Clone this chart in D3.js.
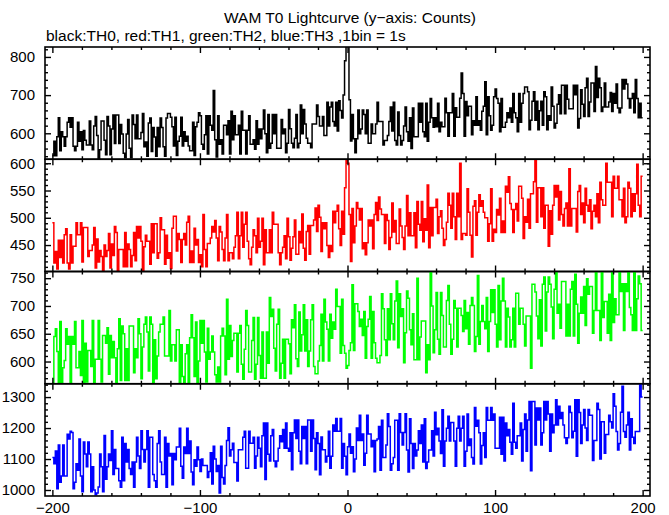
<!DOCTYPE html>
<html><head><meta charset="utf-8">
<script src="https://cdn.jsdelivr.net/npm/d3@7"></script>
<style>body{margin:0;background:#fff}svg{display:block}text{font-family:"Liberation Sans",Arial,Helvetica,sans-serif}</style>
</head><body>
<svg id="c" width="669" height="515"></svg>
<script>
const titleText = "WAM T0 Lightcurve (y\u2212axis: Counts)";
const subtitleText = "black:TH0, red:TH1, green:TH2, blue:TH3 ,1bin = 1s";
const xTickLabels = [-200, -100, 0, 100, 200];
const timeStart = -200, timeEnd = 200;

const th0 = [
541,579,541,591,641,554,604,591,566,591,629,641,616,641,566,554,566,629,579,604,
557,607,582,569,569,632,569,557,619,644,594,532,557,632,632,582,544,644,619,544,
611,648,573,648,648,573,623,598,548,536,598,636,561,536,648,623,586,648,586,586,
602,652,565,577,540,627,640,552,615,590,540,615,565,640,615,565,540,640,652,652,
642,617,567,642,542,579,592,642,567,604,579,592,567,554,554,629,542,617,629,654,
646,571,558,596,646,546,646,621,608,712,583,538,646,571,583,546,621,621,596,633,
546,658,583,646,596,596,621,546,658,608,608,546,608,646,571,571,583,558,633,571,
611,586,611,661,599,549,649,561,574,649,599,649,561,561,561,636,599,611,549,574,
662,612,574,562,587,649,562,574,674,599,662,624,587,574,574,562,624,624,624,674,
644,619,619,644,594,594,681,619,669,681,631,619,681,606,685,660,640,700,790,850,
845,688,580,649,586,549,586,661,599,611,661,649,599,661,574,574,624,599,599,624,
681,631,631,631,569,581,581,594,631,669,606,681,581,569,656,594,569,581,619,669,
604,579,641,560,666,591,591,591,679,629,679,604,591,679,579,629,691,641,616,641,
617,679,604,629,617,617,692,654,592,654,654,704,592,667,642,642,692,758,704,592,
683,646,671,671,596,633,621,696,621,633,608,658,671,735,596,696,646,608,621,696,
716,691,679,604,691,616,616,629,654,641,666,629,704,654,641,604,704,629,679,704,
721,721,709,609,634,684,709,634,684,609,659,684,621,709,696,609,646,634,721,671,
614,626,676,701,651,726,726,651,726,689,664,664,664,726,701,726,614,639,714,676,
644,719,744,644,682,732,732,657,775,694,744,719,657,669,732,669,669,682,707,657,
704,679,729,666,654,666,741,716,741,729,691,666,691,704,654,741,691,641,679,641];

const th1 = [
491,417,438,406,459,427,459,417,469,480,417,406,469,417,448,448,491,469,469,491,
419,482,482,482,429,440,440,450,482,408,461,419,440,429,397,450,429,440,471,408,
452,431,484,473,399,442,442,442,410,473,410,452,442,410,431,473,421,484,463,484,
457,404,447,468,457,457,415,489,436,489,489,426,436,500,478,478,415,468,426,436,
407,481,503,503,439,471,460,418,460,471,450,492,503,418,439,418,481,450,460,418,
432,410,506,442,410,453,453,463,484,474,495,463,421,484,474,442,421,463,506,421,
436,436,425,446,467,510,425,467,510,446,488,510,457,425,414,446,478,467,436,499,
446,457,499,414,478,436,436,478,436,510,488,488,488,436,414,436,446,467,425,499,
465,422,444,465,496,433,433,475,454,507,444,422,475,486,433,486,486,496,518,475,
523,501,438,491,480,491,449,427,449,438,512,491,512,523,480,449,512,470,555,612,
600,506,420,517,454,485,528,517,496,517,443,454,432,454,496,485,496,443,506,528,
495,538,516,506,506,453,506,495,442,464,527,474,495,453,453,516,485,464,442,485,
541,467,509,467,467,509,445,530,488,477,530,456,498,477,560,445,519,467,519,519,
534,471,502,513,481,449,460,492,545,523,481,545,502,460,545,502,600,460,471,471,
468,553,510,468,428,521,531,468,510,542,521,531,510,500,500,457,489,553,457,479,
473,515,505,536,473,494,473,558,547,575,526,515,473,515,526,494,558,558,536,462,
502,492,534,481,544,544,566,605,492,555,555,502,555,481,523,523,448,513,470,523,
559,538,559,496,548,506,485,517,527,485,590,485,517,517,517,474,548,559,506,527,
491,554,523,512,533,480,512,523,502,544,491,565,533,523,523,600,565,565,565,502,
576,554,554,576,533,533,502,554,491,502,565,554,502,544,512,544,598,523,502,576];

const th2 = [
561,645,659,618,561,672,561,589,602,659,631,645,561,645,631,672,589,589,618,575,
674,550,633,563,620,620,591,674,550,604,604,674,604,563,647,647,633,661,577,647,
607,636,607,553,623,677,566,664,650,566,623,566,664,664,664,580,623,607,677,650,
569,626,667,680,653,583,680,667,556,639,569,610,653,667,667,680,610,610,610,692,
601,630,630,601,657,657,560,630,573,560,614,630,560,643,684,643,573,671,560,601,
674,633,674,617,563,660,604,617,646,617,576,563,590,563,646,660,646,576,712,604,
665,609,638,651,651,581,651,665,595,568,622,692,665,581,581,638,679,568,595,679,
611,570,653,570,570,653,597,715,681,694,624,583,667,694,570,597,640,570,640,640,
632,578,675,661,702,605,591,689,619,648,702,619,675,591,619,675,702,591,578,578,
601,629,685,601,712,671,658,601,685,642,671,658,730,699,699,615,712,629,615,588,
593,620,634,738,620,704,704,690,663,676,647,690,606,663,676,717,606,690,634,606,
598,598,611,722,695,639,611,695,639,722,668,639,709,745,625,722,681,695,598,652,
727,714,657,630,686,603,603,750,603,644,673,673,673,580,630,603,762,700,616,657,
724,640,613,724,683,626,626,710,737,667,613,640,710,696,626,696,696,683,654,710,
659,688,631,701,715,701,618,645,755,631,672,701,672,659,715,618,672,729,688,729,
667,626,737,639,709,750,709,626,696,680,626,639,696,626,723,723,667,696,696,667,
628,682,682,682,588,739,739,725,682,641,711,628,739,752,655,725,752,739,698,641,
730,765,687,703,660,744,744,744,646,703,646,730,744,646,757,703,633,687,716,687,
735,665,749,721,735,735,651,692,765,692,692,638,762,679,708,708,651,721,638,762,
670,713,684,684,770,726,740,656,740,726,765,697,684,656,770,656,713,754,740,656];

const th3 = [
1105,1085,1126,1004,1145,1025,1045,1145,1045,1045,1180,1165,1190,1186,1004,1025,1085,1064,1165,1045,
994,1155,1116,1075,1155,1116,994,1075,1000,985,990,1010,1116,1075,994,1176,1035,1075,1116,1095,
1191,1050,1131,1069,1069,1030,1009,1170,1030,1150,1090,1131,1069,1050,1090,1009,1090,1170,1110,1069,
1191,1131,1090,1131,1191,1009,1170,1170,1050,1030,1009,1150,1191,1090,1050,1050,1170,1009,1150,1110,
1118,1017,1118,1098,1139,1139,1199,1077,1038,1139,1118,1199,1118,1158,1058,1017,1098,1077,1139,1098,
1060,1100,1079,1079,1079,1040,1060,1120,1019,1141,1100,1060,1079,990,1141,1040,1019,1079,1160,1201,
1110,1130,1151,1089,1089,1029,1130,1130,1130,1170,1190,1070,1070,1190,1151,1151,1170,1070,1110,1170,
1135,1075,1175,1216,1034,1216,1115,1094,1175,1195,1094,1075,1094,1135,1175,1156,1195,1135,1216,1135,
1125,1185,1065,1185,1226,1166,1226,1125,1085,1205,1166,1205,1085,1226,1226,1125,1226,1166,1065,1185,
1150,1049,1171,1130,1130,1090,1109,1190,1070,1109,1210,1190,1231,1190,1190,1231,1070,1150,1109,1049,
1140,1181,1119,1140,1059,1100,1200,1160,1241,1160,1181,1080,1119,1241,1181,1181,1140,1160,1059,1160,
1165,1205,1064,1225,1105,1105,1145,1246,1205,1064,1085,1105,1225,1225,1064,1246,1186,1145,1186,1246,
1129,1058,1230,1150,1069,1150,1110,1129,1191,1150,1210,1090,1230,1069,1090,1129,1129,1191,1110,1251,
1178,1199,1158,1118,1259,1077,1158,1199,1238,1158,1218,1218,1158,1077,1199,1238,1158,1199,1238,1077,
1125,1245,1144,1165,1105,1084,1266,1206,1225,1185,1084,1144,1185,1105,1266,1225,1225,1266,1225,1245,
1135,1135,1135,1235,1115,1235,1094,1216,1175,1195,1154,1115,1280,1154,1135,1175,1175,1216,1094,1195,
1245,1125,1226,1286,1062,1286,1286,1145,1265,1226,1265,1145,1185,1286,1226,1286,1245,1125,1245,1185,
1210,1291,1210,1270,1231,1250,1210,1169,1150,1169,1270,1250,1169,1190,1291,1109,1291,1250,1150,1210,
1260,1200,1160,1260,1241,1241,1095,1160,1160,1280,1260,1100,1220,1220,1119,1179,1179,1241,1220,1200,
1311,1270,1189,1129,1150,1251,1335,1189,1170,1210,1251,1129,1230,1170,1150,1189,1189,1189,1340,1300];

const seriesValues = [th0, th1, th2, th3];
const seriesColors = ["#000000", "#ff0000", "#00ff00", "#0000ff"];
const yDomains = [[532, 826], [401.5, 607.3], [560, 762], [980.6, 1343]];
const yMajorTicks = [[600, 700, 800], [450, 500, 550, 600], [600, 650, 700, 750], [1000, 1100, 1200, 1300]];
const yMinorTicks = [
  [540,560,580,620,640,660,680,720,740,760,780,820],
  [410,420,430,440,460,470,480,490,510,520,530,540,560,570,580,590,600],
  [570,580,590,610,620,630,640,660,670,680,690,710,720,730,740,760],
  [1020,1040,1060,1080,1120,1140,1160,1180,1220,1240,1260,1280,1320,1340]];
const xMinorTicks = [-180,-160,-140,-120,-80,-60,-40,-20,20,40,60,80,120,140,160,180];

const svg = d3.select("#c");
const L = 45, R = 650, top0 = 47, bottom0 = 496;
const x = d3.scaleLinear().domain([-205, 205]).range([L, R]);
const times = d3.range(timeStart, timeEnd);
const panelH = (bottom0 - top0) / 4;

svg.append("text").attr("x", 350).attr("y", 23).attr("text-anchor", "middle")
  .attr("font-size", 15.5).text(titleText);
svg.append("text").attr("x", 46).attr("y", 41).attr("font-size", 15.5).text(subtitleText);

seriesValues.forEach((vals, p) => {
  const y0 = top0 + p * panelH, y1 = y0 + panelH;
  const y = d3.scaleLinear().domain(yDomains[p]).range([y1, y0]);
  const g = svg.append("g");
  const cid = "clip" + p;
  svg.append("clipPath").attr("id", cid).append("rect")
    .attr("x", L).attr("y", y0).attr("width", R - L).attr("height", panelH);
  const pts = times.map((t, i) => [t, vals[i]]);
  pts.push([timeEnd, vals[vals.length - 1]]);
  const line = d3.line().x(d => x(d[0])).y(d => y(d[1])).curve(d3.curveStepAfter);
  g.append("path").datum(pts).attr("clip-path", `url(#${cid})`)
    .attr("fill", "none").attr("stroke", seriesColors[p]).attr("stroke-width", 1.5).attr("d", line);

  const style = sel => { sel.select(".domain").remove(); sel.selectAll("line").attr("stroke", "#000").attr("stroke-width", 1.4); };
  svg.append("g").attr("transform", `translate(${L},0)`)
    .call(d3.axisLeft(y).tickValues(yMajorTicks[p]).tickSize(-6).tickPadding(10).tickFormat(d3.format("d")))
    .call(style).call(s => s.selectAll("text").attr("font-size", 15).attr("fill", "#000"));
  svg.append("g").attr("transform", `translate(${L},0)`)
    .call(d3.axisLeft(y).tickValues(yMinorTicks[p]).tickSize(-3).tickFormat(""))
    .call(style);
  svg.append("g").attr("transform", `translate(${R},0)`)
    .call(d3.axisRight(y).tickValues(yMajorTicks[p]).tickSize(-6).tickFormat(""))
    .call(style);
  svg.append("g").attr("transform", `translate(${R},0)`)
    .call(d3.axisRight(y).tickValues(yMinorTicks[p]).tickSize(-3).tickFormat(""))
    .call(style);
  svg.append("g").attr("transform", `translate(0,${y0})`)
    .call(d3.axisTop(x).tickValues(xTickLabels).tickSize(-6).tickFormat(""))
    .call(style);
  svg.append("g").attr("transform", `translate(0,${y0})`)
    .call(d3.axisTop(x).tickValues(xMinorTicks).tickSize(-3).tickFormat(""))
    .call(style);
  const bx = svg.append("g").attr("transform", `translate(0,${y1})`)
    .call(d3.axisBottom(x).tickValues(xTickLabels).tickSize(-6).tickPadding(6)
      .tickFormat(p === 3 ? (d => d3.format("d")(d).replace("-", "\u2212")) : ""))
    .call(style);
  bx.selectAll("text").attr("font-size", 15).attr("fill", "#000");
  svg.append("g").attr("transform", `translate(0,${y1})`)
    .call(d3.axisBottom(x).tickValues(xMinorTicks).tickSize(-3).tickFormat(""))
    .call(style);
  svg.append("rect").attr("x", L).attr("y", y0).attr("width", R - L).attr("height", panelH)
    .attr("fill", "none").attr("stroke", "#000").attr("stroke-width", 1.6);
});
</script>
</body></html>
